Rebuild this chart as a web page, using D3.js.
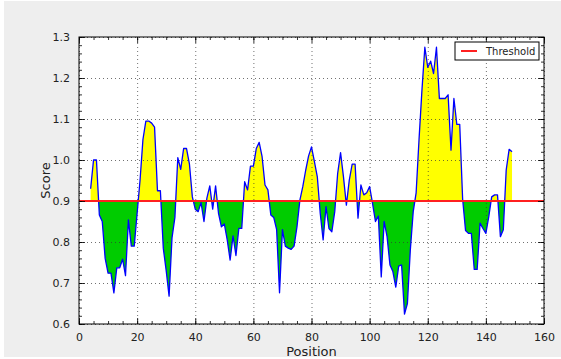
<!DOCTYPE html>
<html>
<head>
<meta charset="utf-8">
<script src="https://d3js.org/d3.v7.min.js"></script>
<style>
  body { margin: 0; background: #fff; }
  text { font-family: "DejaVu Sans", sans-serif; fill: #222; }
</style>
</head>
<body>
<script>

// Data: score per position, starting at position 4
var startPos = 4;
var scores = [
  0.930, 1.000, 1.000, 0.866, 0.850, 0.760, 0.724, 0.724, 0.676, 0.737,
  0.737, 0.758, 0.718, 0.854, 0.790, 0.790, 0.870, 0.950, 1.050, 1.095,
  1.095, 1.090, 1.080, 0.925, 0.925, 0.785, 0.730, 0.668, 0.810, 0.860,
  1.006, 0.977, 1.028, 1.028, 0.990, 0.910, 0.880, 0.874, 0.896, 0.850,
  0.907, 0.937, 0.880, 0.937, 0.870, 0.837, 0.844, 0.805, 0.756, 0.815,
  0.767, 0.833, 0.833, 0.947, 0.927, 0.985, 0.985, 1.028, 1.043, 1.008,
  0.939, 0.927, 0.866, 0.860, 0.830, 0.676, 0.830, 0.790, 0.785, 0.782,
  0.790, 0.837, 0.902, 0.935, 0.975, 1.010, 1.032, 0.996, 0.959, 0.870,
  0.805, 0.886, 0.833, 0.825, 0.874, 0.967, 1.018, 0.959, 0.890, 0.951,
  0.990, 0.990, 0.858, 0.939, 0.915, 0.920, 0.935, 0.894, 0.850, 0.863,
  0.715, 0.850, 0.813, 0.744, 0.728, 0.690, 0.741, 0.744, 0.624, 0.650,
  0.780, 0.874, 0.920, 1.050, 1.170, 1.275, 1.226, 1.241, 1.211, 1.275,
  1.150, 1.150, 1.150, 1.159, 1.024, 1.150, 1.087, 1.087, 0.905, 0.828,
  0.821, 0.821, 0.733, 0.733, 0.846, 0.833, 0.821, 0.862, 0.910, 0.915,
  0.915, 0.813, 0.830, 0.976, 1.026, 1.020
];
var threshold = 0.9;
var xTicks = [0, 20, 40, 60, 80, 100, 120, 140, 160];
var yTicks = [0.6, 0.7, 0.8, 0.9, 1.0, 1.1, 1.2, 1.3];

var data = scores.map(function(v, i) { return {pos: startPos + i, score: v}; });

var W = 561, H = 359;
var margin = {top: 37, right: 17, bottom: 35, left: 79};
var width = W - margin.left - margin.right,
    height = H - margin.top - margin.bottom;

var svg = d3.select("body").append("svg")
    .attr("width", W)
    .attr("height", H);

// figure background
svg.append("rect")
    .attr("x", 4).attr("y", 1)
    .attr("width", W - 4).attr("height", 356)
    .attr("fill", "#eeeeee");

var g = svg.append("g")
    .attr("transform", "translate(" + margin.left + "," + margin.top + ")");

var x = d3.scaleLinear().domain([0, 160]).range([0, width]);
var y = d3.scaleLinear().domain([0.6, 1.3]).range([height, 0]);

g.append("rect").attr("width", width).attr("height", height).attr("fill", "#fff");

// clip regions above / below threshold
var defs = svg.append("defs");
defs.append("clipPath").attr("id", "above")
  .append("rect").attr("x", 0).attr("y", 0)
  .attr("width", width).attr("height", y(threshold));
defs.append("clipPath").attr("id", "below")
  .append("rect").attr("x", 0).attr("y", y(threshold))
  .attr("width", width).attr("height", height - y(threshold));

var area = d3.area()
    .x(function(d) { return x(d.pos); })
    .y0(y(threshold))
    .y1(function(d) { return y(d.score); });

g.append("path").datum(data)
    .attr("clip-path", "url(#above)")
    .attr("fill", "#ffff00")
    .attr("d", area);

g.append("path").datum(data)
    .attr("clip-path", "url(#below)")
    .attr("fill", "#00cc00")
    .attr("d", area);

// grid
g.append("g")
    .attr("transform", "translate(0," + height + ")")
    .call(d3.axisBottom(x).tickValues(xTicks).tickSize(-height).tickFormat(""))
    .call(function(s) {
      s.select(".domain").remove();
      s.selectAll("line").attr("stroke", "#333").attr("stroke-width", 0.7).attr("stroke-dasharray", "1,3");
    });
g.append("g")
    .call(d3.axisLeft(y).tickValues(yTicks).tickSize(-width).tickFormat(""))
    .call(function(s) {
      s.select(".domain").remove();
      s.selectAll("line").attr("stroke", "#333").attr("stroke-width", 0.7).attr("stroke-dasharray", "1,3");
    });

// score line
g.append("path").datum(data)
    .attr("fill", "none")
    .attr("stroke", "#0000ff")
    .attr("stroke-width", 1.3)
    .attr("stroke-linejoin", "round")
    .attr("d", d3.line()
        .x(function(d) { return x(d.pos); })
        .y(function(d) { return y(d.score); }));

// threshold line
g.append("line")
    .attr("x1", x(0)).attr("x2", x(160))
    .attr("y1", y(threshold)).attr("y2", y(threshold))
    .attr("stroke", "#ff2020")
    .attr("stroke-width", 2);

// axes with inward ticks
var minorX = d3.range(0, 161, 5);
var minorY = d3.range(60, 131, 2).map(function(v) { return v / 100; });

function styleAxis(s) {
  s.select(".domain").remove();
  s.selectAll("line").attr("stroke", "#000").attr("stroke-width", 0.8);
  s.selectAll("text").style("font-size", "11px").attr("fill", "#222");
}

g.append("g").attr("transform", "translate(0," + height + ")")
    .call(d3.axisBottom(x).tickValues(minorX).tickSize(-3).tickFormat(""))
    .call(styleAxis);
g.append("g")
    .call(d3.axisTop(x).tickValues(minorX).tickSize(-3).tickFormat(""))
    .call(styleAxis);
g.append("g").attr("transform", "translate(0," + height + ")")
    .call(d3.axisBottom(x).tickValues(xTicks).tickSize(-6).tickPadding(9).tickFormat(d3.format("d")))
    .call(styleAxis);
g.append("g")
    .call(d3.axisTop(x).tickValues(xTicks).tickSize(-6).tickFormat(""))
    .call(styleAxis);

g.append("g")
    .call(d3.axisLeft(y).tickValues(minorY).tickSize(-3).tickFormat(""))
    .call(styleAxis);
g.append("g").attr("transform", "translate(" + width + ",0)")
    .call(d3.axisRight(y).tickValues(minorY).tickSize(-3).tickFormat(""))
    .call(styleAxis);
g.append("g")
    .call(d3.axisLeft(y).tickValues(yTicks).tickSize(-6).tickPadding(9).tickFormat(d3.format(".1f")))
    .call(styleAxis);
g.append("g").attr("transform", "translate(" + width + ",0)")
    .call(d3.axisRight(y).tickValues(yTicks).tickSize(-6).tickFormat(""))
    .call(styleAxis);

// frame
g.append("rect")
    .attr("width", width).attr("height", height)
    .attr("fill", "none").attr("stroke", "#000").attr("stroke-width", 1);

// axis labels
svg.append("text")
    .attr("x", margin.left + width / 2).attr("y", 356)
    .attr("text-anchor", "middle")
    .style("font-size", "13px")
    .text("Position");
svg.append("text")
    .attr("transform", "translate(50," + (margin.top + height / 2) + ") rotate(-90)")
    .attr("text-anchor", "middle")
    .style("font-size", "13px")
    .text("Score");

// legend
var lg = svg.append("g").attr("transform", "translate(455,42)");
lg.append("rect").attr("width", 84).attr("height", 18)
    .attr("fill", "#fff").attr("stroke", "#000").attr("stroke-width", 1);
lg.append("line").attr("x1", 6).attr("x2", 22).attr("y1", 9).attr("y2", 9)
    .attr("stroke", "#ff2020").attr("stroke-width", 2);
lg.append("text").attr("x", 31).attr("y", 13)
    .style("font-size", "10px")
    .text("Threshold");

</script>
</body>
</html>
